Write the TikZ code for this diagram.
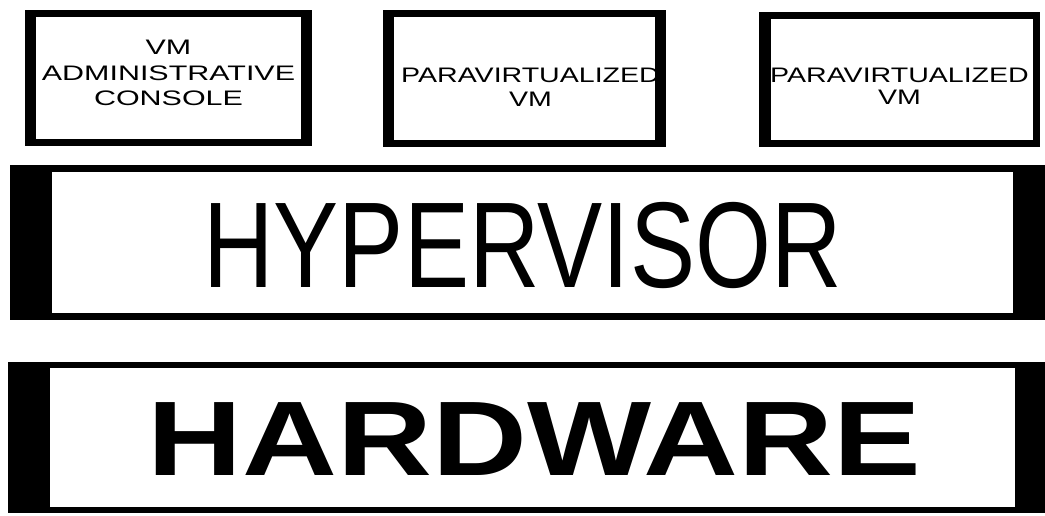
\documentclass[tikz,border=0pt]{standalone}
\usepackage{fontspec}
\setmainfont{Liberation Sans}
\newfontfamily\vmfont{Liberation Sans}[FakeStretch=1.45]
\newfontfamily\parafont{Liberation Sans}[FakeStretch=1.36]
\newfontfamily\hypfont{Liberation Sans}[FakeStretch=0.8]
\newfontfamily\hwfont{Liberation Sans}[FakeStretch=1.24]
\usetikzlibrary{positioning}

\begin{document}
\begin{tikzpicture}[
  x=1pt, y=-1pt,
  vmbox/.style={draw=black, line width=7pt, fill=white, inner sep=0pt, outer sep=0pt,
    minimum height=129pt},
  vmtext/.style={align=center, inner sep=0pt},
  layer/.style={draw=black, inner sep=0pt, outer sep=0pt},
  bar/.style={fill=black}
]
\useasboundingbox (0,0) rectangle (1045,515);

% virtual machines on top
\node[vmbox, minimum width=280pt] (console) at (168.5,78) {};
\node[vmbox, minimum width=276pt, minimum height=130pt] (paravm1) at (524.5,78.5) {};
\node[vmbox, minimum width=274pt, minimum height=128pt] (paravm2) at (899.5,79.5) {};

% thick side edges of the vm boxes
\fill[bar] ([shift={(-3.5pt,3.5pt)}]console.north west) rectangle ([shift={(7.5pt,-3.5pt)}]console.south west);
\fill[bar] ([shift={(-7.5pt,3.5pt)}]console.north east) rectangle ([shift={(3.5pt,-3.5pt)}]console.south east);
\fill[bar] ([shift={(-3.5pt,3.5pt)}]paravm1.north west) rectangle ([shift={(7.5pt,-3.5pt)}]paravm1.south west);
\fill[bar] ([shift={(-7.5pt,3.5pt)}]paravm1.north east) rectangle ([shift={(3.5pt,-3.5pt)}]paravm1.south east);
\fill[bar] ([shift={(-3.5pt,3.5pt)}]paravm2.north west) rectangle ([shift={(8.5pt,-3.5pt)}]paravm2.south west);

% vm labels
\node[vmtext, font=\vmfont\fontsize{21}{25.5}\selectfont, yshift=5pt]
  (consoletext) at (console) {VM\\ADMINISTRATIVE\\CONSOLE};
\node[vmtext, font=\parafont\fontsize{21}{24}\selectfont, xshift=6pt, yshift=-9pt]
  (paravm1text) at (paravm1) {PARAVIRTUALIZED\\VM};
\node[vmtext, font=\parafont\fontsize{21}{22}\selectfont, yshift=-7pt]
  (paravm2text) at (paravm2) {PARAVIRTUALIZED\\VM};

% hypervisor layer
\node[layer, line width=7pt, minimum width=1028pt, minimum height=148pt] (hypervisor) at (527.5,242.5) {};
\fill[bar] ([shift={(-3.5pt,3.5pt)}]hypervisor.north west) rectangle ([shift={(38.5pt,-3.5pt)}]hypervisor.south west);
\fill[bar] ([shift={(-28.5pt,3.5pt)}]hypervisor.north east) rectangle ([shift={(3.5pt,-3.5pt)}]hypervisor.south east);
\node[inner sep=0pt, font=\hypfont\fontsize{122}{122}\selectfont, xshift=-5pt, yshift=-3pt]
  (hypervisortext) at (hypervisor) {HYPERVISOR};

% hardware layer
\node[layer, line width=6pt, minimum width=1031pt, minimum height=145pt] (hardware) at (526.5,437.5) {};
\fill[bar] ([shift={(-3pt,3pt)}]hardware.north west) rectangle ([shift={(39pt,-3pt)}]hardware.south west);
\fill[bar] ([shift={(-27pt,3pt)}]hardware.north east) rectangle ([shift={(3pt,-3pt)}]hardware.south east);
\node[inner sep=0pt, font=\hwfont\bfseries\fontsize{106}{106}\selectfont, xshift=8pt, yshift=-2pt]
  (hardwaretext) at (hardware) {HARDWARE};

\end{tikzpicture}
\end{document}
